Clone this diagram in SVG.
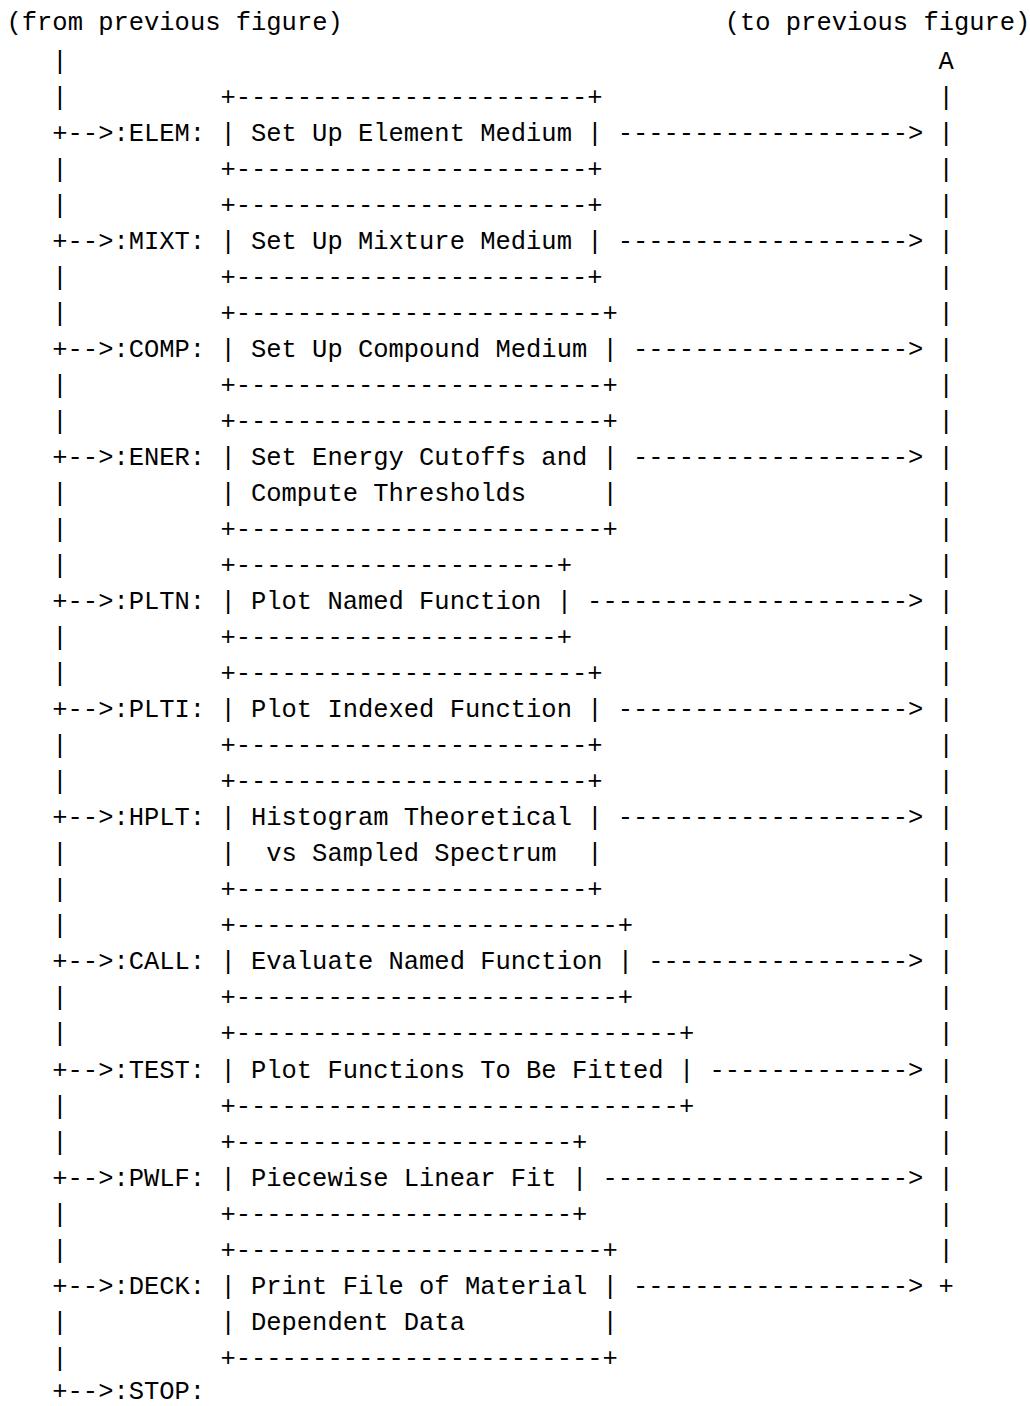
<svg xmlns="http://www.w3.org/2000/svg" width="1030" height="1406" viewBox="0 0 1030 1406" xml:space="preserve">
<style>
.t{font-family:"Liberation Mono","DejaVu Sans Mono",monospace;font-size:25.47px;fill:#000;white-space:pre}
</style>
<rect width="1030" height="1406" fill="#fff"/>
<g id="header">
<text class="t" x="6.5" y="30">(from previous figure)</text>
<text class="t" x="724.7" y="30">(to previous figure)</text>
</g>
<g id="connectors">
<g id="left-trunk">
<text class="t" x="52.3" y="68.6">|</text>
<text class="t" x="52.3" y="104.7">|</text>
<text class="t" x="52.3" y="176.7">|</text>
<text class="t" x="52.3" y="212.8">|</text>
<text class="t" x="52.3" y="284.8">|</text>
<text class="t" x="52.3" y="320.8">|</text>
<text class="t" x="52.3" y="392.9">|</text>
<text class="t" x="52.3" y="428.9">|</text>
<text class="t" x="52.3" y="501.0">|</text>
<text class="t" x="52.3" y="537.0">|</text>
<text class="t" x="52.3" y="573.1">|</text>
<text class="t" x="52.3" y="645.1">|</text>
<text class="t" x="52.3" y="681.1">|</text>
<text class="t" x="52.3" y="753.2">|</text>
<text class="t" x="52.3" y="789.2">|</text>
<text class="t" x="52.3" y="861.3">|</text>
<text class="t" x="52.3" y="897.3">|</text>
<text class="t" x="52.3" y="933.4">|</text>
<text class="t" x="52.3" y="1005.4">|</text>
<text class="t" x="52.3" y="1041.4">|</text>
<text class="t" x="52.3" y="1113.5">|</text>
<text class="t" x="52.3" y="1149.5">|</text>
<text class="t" x="52.3" y="1221.6">|</text>
<text class="t" x="52.3" y="1257.6">|</text>
<text class="t" x="52.3" y="1329.7">|</text>
<text class="t" x="52.3" y="1365.7">|</text>
</g>
<g id="left-branches">
<text class="t" x="52.3" y="140.7">+-->:ELEM:</text>
<text class="t" x="52.3" y="248.8">+-->:MIXT:</text>
<text class="t" x="52.3" y="356.9">+-->:COMP:</text>
<text class="t" x="52.3" y="465.0">+-->:ENER:</text>
<text class="t" x="52.3" y="609.1">+-->:PLTN:</text>
<text class="t" x="52.3" y="717.2">+-->:PLTI:</text>
<text class="t" x="52.3" y="825.3">+-->:HPLT:</text>
<text class="t" x="52.3" y="969.4">+-->:CALL:</text>
<text class="t" x="52.3" y="1077.5">+-->:TEST:</text>
<text class="t" x="52.3" y="1185.6">+-->:PWLF:</text>
<text class="t" x="52.3" y="1293.7">+-->:DECK:</text>
<text class="t" x="52.3" y="1398.5">+-->:STOP:</text>
</g>
<g id="right-arrows">
<text class="t" x="617.7" y="140.7">-------------------&gt;</text>
<text class="t" x="617.7" y="248.8">-------------------&gt;</text>
<text class="t" x="633.0" y="356.9">------------------&gt;</text>
<text class="t" x="633.0" y="465.0">------------------&gt;</text>
<text class="t" x="587.1" y="609.1">---------------------&gt;</text>
<text class="t" x="617.7" y="717.2">-------------------&gt;</text>
<text class="t" x="617.7" y="825.3">-------------------&gt;</text>
<text class="t" x="648.3" y="969.4">-----------------&gt;</text>
<text class="t" x="709.4" y="1077.5">-------------&gt;</text>
<text class="t" x="602.4" y="1185.6">--------------------&gt;</text>
<text class="t" x="633.0" y="1293.7">------------------&gt;</text>
</g>
<g id="right-trunk">
<text class="t" x="938.6" y="68.6">A</text>
<text class="t" x="938.6" y="104.7">|</text>
<text class="t" x="938.6" y="140.7">|</text>
<text class="t" x="938.6" y="176.7">|</text>
<text class="t" x="938.6" y="212.8">|</text>
<text class="t" x="938.6" y="248.8">|</text>
<text class="t" x="938.6" y="284.8">|</text>
<text class="t" x="938.6" y="320.8">|</text>
<text class="t" x="938.6" y="356.9">|</text>
<text class="t" x="938.6" y="392.9">|</text>
<text class="t" x="938.6" y="428.9">|</text>
<text class="t" x="938.6" y="465.0">|</text>
<text class="t" x="938.6" y="501.0">|</text>
<text class="t" x="938.6" y="537.0">|</text>
<text class="t" x="938.6" y="573.1">|</text>
<text class="t" x="938.6" y="609.1">|</text>
<text class="t" x="938.6" y="645.1">|</text>
<text class="t" x="938.6" y="681.1">|</text>
<text class="t" x="938.6" y="717.2">|</text>
<text class="t" x="938.6" y="753.2">|</text>
<text class="t" x="938.6" y="789.2">|</text>
<text class="t" x="938.6" y="825.3">|</text>
<text class="t" x="938.6" y="861.3">|</text>
<text class="t" x="938.6" y="897.3">|</text>
<text class="t" x="938.6" y="933.4">|</text>
<text class="t" x="938.6" y="969.4">|</text>
<text class="t" x="938.6" y="1005.4">|</text>
<text class="t" x="938.6" y="1041.4">|</text>
<text class="t" x="938.6" y="1077.5">|</text>
<text class="t" x="938.6" y="1113.5">|</text>
<text class="t" x="938.6" y="1149.5">|</text>
<text class="t" x="938.6" y="1185.6">|</text>
<text class="t" x="938.6" y="1221.6">|</text>
<text class="t" x="938.6" y="1257.6">|</text>
<text class="t" x="938.6" y="1293.7">+</text>
</g>
</g>
<g id="node-elem">
<text class="t" x="220.4" y="104.7">+-----------------------+</text>
<text class="t" x="220.4" y="140.7">| Set Up Element Medium |</text>
<text class="t" x="220.4" y="176.7">+-----------------------+</text>
</g>
<g id="node-mixt">
<text class="t" x="220.4" y="212.8">+-----------------------+</text>
<text class="t" x="220.4" y="248.8">| Set Up Mixture Medium |</text>
<text class="t" x="220.4" y="284.8">+-----------------------+</text>
</g>
<g id="node-comp">
<text class="t" x="220.4" y="320.8">+------------------------+</text>
<text class="t" x="220.4" y="356.9">| Set Up Compound Medium |</text>
<text class="t" x="220.4" y="392.9">+------------------------+</text>
</g>
<g id="node-ener">
<text class="t" x="220.4" y="428.9">+------------------------+</text>
<text class="t" x="220.4" y="465.0">| Set Energy Cutoffs and |</text>
<text class="t" x="220.4" y="501.0">| Compute Thresholds     |</text>
<text class="t" x="220.4" y="537.0">+------------------------+</text>
</g>
<g id="node-pltn">
<text class="t" x="220.4" y="573.1">+---------------------+</text>
<text class="t" x="220.4" y="609.1">| Plot Named Function |</text>
<text class="t" x="220.4" y="645.1">+---------------------+</text>
</g>
<g id="node-plti">
<text class="t" x="220.4" y="681.1">+-----------------------+</text>
<text class="t" x="220.4" y="717.2">| Plot Indexed Function |</text>
<text class="t" x="220.4" y="753.2">+-----------------------+</text>
</g>
<g id="node-hplt">
<text class="t" x="220.4" y="789.2">+-----------------------+</text>
<text class="t" x="220.4" y="825.3">| Histogram Theoretical |</text>
<text class="t" x="220.4" y="861.3">|  vs Sampled Spectrum  |</text>
<text class="t" x="220.4" y="897.3">+-----------------------+</text>
</g>
<g id="node-call">
<text class="t" x="220.4" y="933.4">+-------------------------+</text>
<text class="t" x="220.4" y="969.4">| Evaluate Named Function |</text>
<text class="t" x="220.4" y="1005.4">+-------------------------+</text>
</g>
<g id="node-test">
<text class="t" x="220.4" y="1041.4">+-----------------------------+</text>
<text class="t" x="220.4" y="1077.5">| Plot Functions To Be Fitted |</text>
<text class="t" x="220.4" y="1113.5">+-----------------------------+</text>
</g>
<g id="node-pwlf">
<text class="t" x="220.4" y="1149.5">+----------------------+</text>
<text class="t" x="220.4" y="1185.6">| Piecewise Linear Fit |</text>
<text class="t" x="220.4" y="1221.6">+----------------------+</text>
</g>
<g id="node-deck">
<text class="t" x="220.4" y="1257.6">+------------------------+</text>
<text class="t" x="220.4" y="1293.7">| Print File of Material |</text>
<text class="t" x="220.4" y="1329.7">| Dependent Data         |</text>
<text class="t" x="220.4" y="1365.7">+------------------------+</text>
</g>
</svg>
